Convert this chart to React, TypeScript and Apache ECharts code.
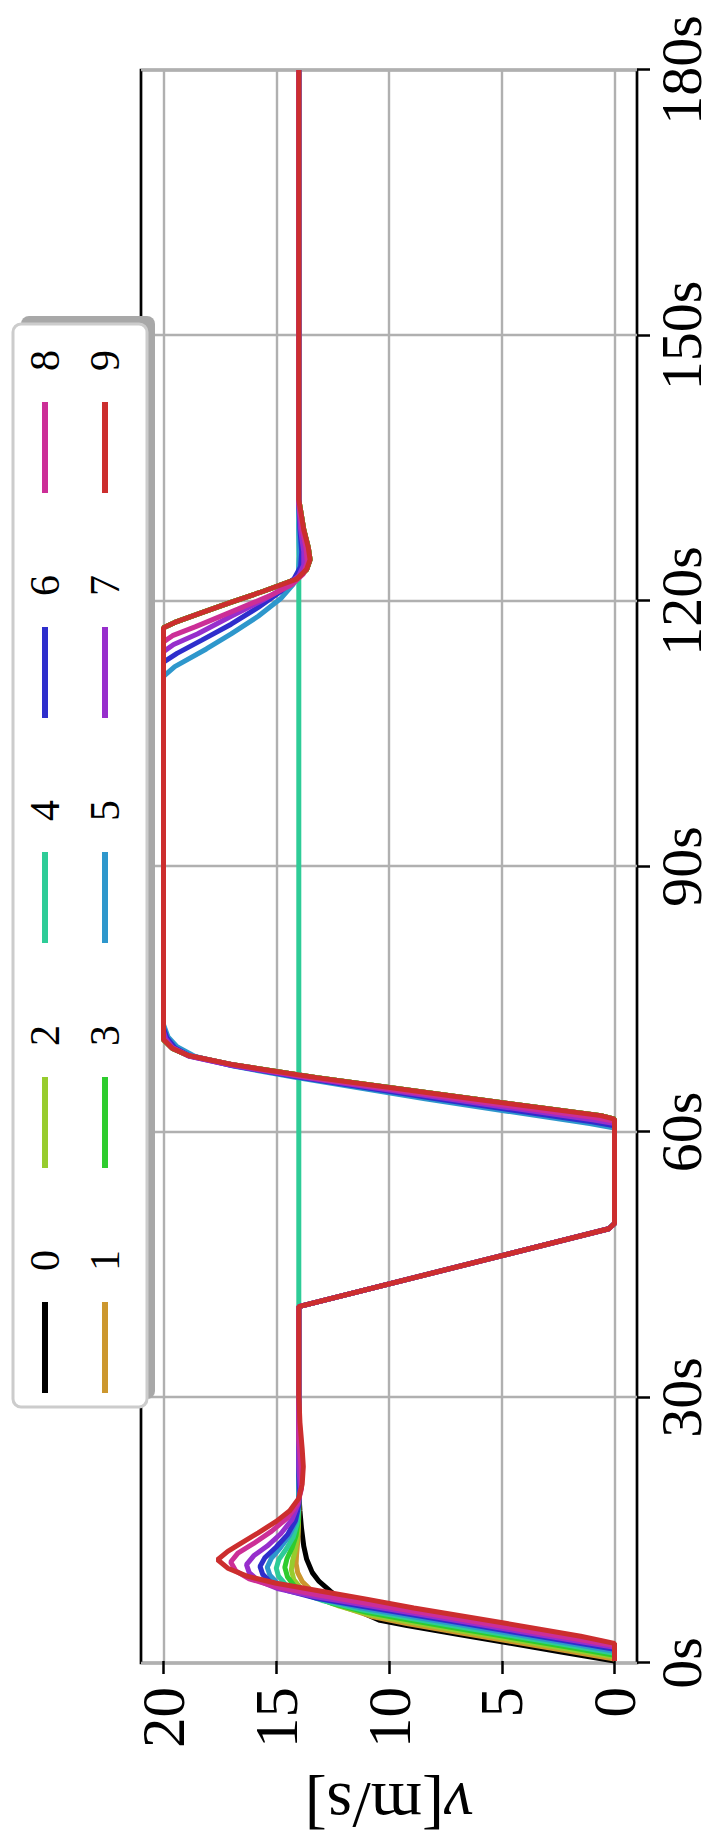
import React, { useEffect, useRef } from "react";
import * as echarts from "echarts";

// ---- tick labels ----
const TIME_TICKS = [0, 30, 60, 90, 120, 150, 180];
const SPEED_TICKS = [0, 5, 10, 15, 20];
const SPEED_FRAME = [-1, 21];

// ---- series names & colours ----
const SERIES_NAMES = ["0", "1", "2", "3", "4", "5", "6", "7", "8", "9"];
const COLORS = [
  "#000000", "#cc972e", "#97cc2e", "#2ecc2e", "#2ecc97",
  "#2e97cc", "#2e2ecc", "#972ecc", "#cc2e97", "#cc2e2e",
];
const LEGEND_ROW_1 = ["0", "2", "4", "6", "8"];
const LEGEND_ROW_2 = ["1", "3", "5", "7", "9"];

// ---- start phase (t [s], v [m/s]) ----
const START_0 = [[0,0],[1,2.3],[2,4.6],[3,6.9],[4,9.2],[4.6,10.4],[5.5,11.2],[6.5,11.9],[7.9,12.6],[9,13.1],[10,13.4],[11.5,13.65],[13,13.78],[15,13.88],[17,13.95],[19,14]];
const START_1 = [[0,0],[0.22,0],[1.2,2.25],[2.2,4.55],[3.2,6.85],[4.2,9.15],[5,10.7],[6,11.9],[7,12.8],[8,13.45],[9,13.85],[10,14.05],[11,14.12],[12,14.1],[14,14.03],[17,14],[19,14]];
const START_2 = [[0,0],[0.44,0],[1.4,2.2],[2.4,4.5],[3.4,6.8],[4.4,9.1],[5.2,10.8],[6.2,12.2],[7.2,13.2],[8.2,13.9],[9.2,14.22],[10.3,14.33],[11.3,14.28],[12.5,14.16],[14,14.06],[16,14.01],[19,14]];
const START_3 = [[0,0],[0.66,0],[1.6,2.15],[2.6,4.45],[3.6,6.75],[4.6,9.05],[5.5,11.0],[6.5,12.5],[7.5,13.55],[8.5,14.2],[9.5,14.5],[10.6,14.62],[11.6,14.52],[12.8,14.3],[14.2,14.12],[16,14.02],[19,14]];
const START_4 = [[0,0],[0.88,0],[1.8,2.1],[2.8,4.4],[3.8,6.7],[4.8,9.0],[5.8,11.2],[6.8,12.9],[7.8,14.0],[8.7,14.6],[9.6,14.9],[10.5,15.0],[11.5,14.88],[12.7,14.55],[14,14.25],[15.5,14.08],[17,14.01],[19,14]];
const START_5 = [[0,0],[1.1,0],[2,2.05],[3,4.35],[4,6.65],[5,8.95],[6,11.2],[7,13.0],[7.9,14.25],[8.8,14.95],[9.7,15.28],[10.6,15.4],[11.6,15.22],[12.8,14.82],[14.2,14.42],[15.8,14.13],[17.5,14.02],[19,14]];
const START_6 = [[0,0],[1.32,0],[2.2,2.0],[3.2,4.3],[4.2,6.6],[5.2,8.9],[6.2,11.2],[7.1,13.2],[8,14.55],[8.9,15.25],[9.8,15.6],[10.7,15.72],[11.7,15.5],[12.9,15.0],[14.3,14.5],[15.9,14.15],[17.6,14.0],[19,13.97],[21,14]];
const START_7 = [[0,0],[1.54,0],[2.4,2.0],[3.4,4.3],[4.4,6.6],[5.4,8.9],[6.4,11.2],[7.3,13.3],[8.2,14.95],[9.1,15.8],[10,16.2],[10.9,16.32],[11.9,16.0],[13,15.4],[14.4,14.8],[16,14.3],[17.8,14.02],[19.5,13.93],[22,14]];
const START_8 = [[0,0],[1.76,0],[2.6,1.95],[3.6,4.25],[4.6,6.55],[5.6,8.85],[6.6,11.15],[7.5,13.2],[8.4,15.0],[9.3,16.2],[10.2,16.8],[11.2,17.02],[12.2,16.7],[13.3,16.0],[14.7,15.2],[16.2,14.5],[17.8,14.05],[19.5,13.88],[22,13.9],[25,14]];
const START_9 = [[0,0],[2.0,0],[2.8,1.5],[4.3,4.9],[6.0,8.9],[7.0,11.0],[7.9,13.0],[8.8,15.0],[9.6,16.3],[10.5,17.15],[11.45,17.6],[12.4,17.15],[13.1,16.7],[14.5,15.8],[15.8,15.0],[17,14.4],[18.4,14.0],[20,13.85],[22,13.8],[24,13.85],[27,13.95],[30,14]];

// ---- braking to standstill (shared) ----
const DROP = [[40.1,14],[48.9,0.25],[49.5,0]];

// ---- second acceleration ----
const RAMP_5 = [[60.3,0],[60.8,1.1],[63.6,8.4],[66,14.1],[67.3,16.9],[68.4,18.6],[69.5,19.4],[70.6,19.8],[72,20]];
const RAMP_6 = [[60.55,0],[61.0,1.0],[63.6,7.9],[66,13.9],[67.4,17.0],[68.4,18.8],[69.4,19.5],[70.5,19.85],[71.6,20]];
const RAMP_7 = [[60.8,0],[61.2,0.9],[63.6,7.4],[66,13.7],[67.4,17.0],[68.4,18.85],[69.4,19.6],[70.4,19.9],[71.2,20]];
const RAMP_8 = [[61.05,0],[61.45,0.8],[63.6,6.9],[66,13.5],[67.5,17.0],[68.5,18.9],[69.4,19.65],[70.4,20]];
const RAMP_9 = [[61.3,0],[61.7,0.6],[63.6,6.3],[66,13.2],[67.5,17.0],[68.5,18.9],[69.3,19.6],[70.3,20]];

// ---- deceleration 20 -> 14 ----
const DECEL_5 = [[111.4,20],[112.5,19.5],[114.5,18.1],[116.2,17.0],[118.2,15.8],[120.2,14.8],[121.8,14.25],[123,14.02],[125,13.97],[128,14]];
const DECEL_6 = [[113.0,20],[114,19.4],[115.5,18.3],[117.3,17.0],[119.2,15.8],[121,14.8],[122.5,14.2],[123.8,13.92],[125.5,13.87],[128,13.95],[131,14]];
const DECEL_7 = [[114.2,20],[115,19.55],[116.2,18.5],[118.2,17.0],[120,15.6],[121.5,14.6],[122.8,14.0],[124,13.78],[125.5,13.78],[128,13.92],[131,14]];
const DECEL_8 = [[115.3,20],[116,19.6],[117,18.6],[119,16.7],[120.5,15.3],[121.8,14.3],[123,13.8],[124.3,13.62],[126,13.68],[128,13.85],[131,14]];
const DECEL_9 = [[116.9,20],[117.5,19.5],[118.6,18.3],[119.74,17.05],[121,15.6],[122.4,14.1],[123.5,13.65],[124.6,13.5],[126,13.58],[128,13.78],[131.4,14]];

const END = [[180,14]];

const SERIES_DATA = [
  [...START_0, ...DROP, ...RAMP_9, ...DECEL_9, ...END],
  [...START_1, ...DROP, ...RAMP_9, ...DECEL_9, ...END],
  [...START_2, ...DROP, ...RAMP_9, ...DECEL_9, ...END],
  [...START_3, ...DROP, ...RAMP_9, ...DECEL_9, ...END],
  [...START_4, ...END],
  [...START_5, ...DROP, ...RAMP_5, ...DECEL_5, ...END],
  [...START_6, ...DROP, ...RAMP_6, ...DECEL_6, ...END],
  [...START_7, ...DROP, ...RAMP_7, ...DECEL_7, ...END],
  [...START_8, ...DROP, ...RAMP_8, ...DECEL_8, ...END],
  [...START_9, ...DROP, ...RAMP_9, ...DECEL_9, ...END],
];

const FONT = "'Liberation Serif', 'DejaVu Serif', serif";

function buildOption() {
  const tickStyle = { show: true, inside: false, length: 13, lineStyle: { color: "#000", width: 2.5 } };
  const gridLine = { show: true, lineStyle: { color: "#b0b0b0", width: 2.4 } };
  const legendCommon = {
    orient: "horizontal",
    icon: "rect",
    itemWidth: 91,
    itemHeight: 6,
    itemGap: 82,
    padding: 0,
    selectedMode: false,
    z: 6,
    textStyle: { fontSize: 42, fontFamily: FONT, color: "#000", lineHeight: 44, padding: [0, 0, 0, 26] },
  };
  return {
    animation: false,
    backgroundColor: "#ffffff",
    textStyle: { fontFamily: FONT },
    grid: [
      { left: 184, right: 70, top: 141, bottom: 79, show: true, borderColor: "#000", borderWidth: 2.7, backgroundColor: "transparent" },
      { left: 184, right: 70, top: 163.5, bottom: 101.5, show: false },
    ],
    xAxis: [
      {
        type: "value", gridIndex: 0,
        min: TIME_TICKS[0], max: TIME_TICKS[TIME_TICKS.length - 1], interval: TIME_TICKS[1] - TIME_TICKS[0],
        axisLine: { show: false, onZero: false },
        axisTick: tickStyle,
        axisLabel: { formatter: (v: number) => `${v}s`, fontSize: 58, lineHeight: 50, fontFamily: FONT, color: "#000", margin: 19 },
        splitLine: gridLine,
      },
      {
        type: "value", gridIndex: 1,
        min: TIME_TICKS[0], max: TIME_TICKS[TIME_TICKS.length - 1],
        show: false, axisLine: { onZero: false },
      },
    ],
    yAxis: [
      { type: "value", gridIndex: 0, min: SPEED_FRAME[0], max: SPEED_FRAME[1], show: false, axisLine: { onZero: false } },
      {
        type: "value", gridIndex: 1,
        min: SPEED_TICKS[0], max: SPEED_TICKS[SPEED_TICKS.length - 1], interval: SPEED_TICKS[1] - SPEED_TICKS[0],
        axisLine: { show: false, onZero: false },
        axisTick: tickStyle,
        axisLabel: { fontSize: 61, lineHeight: 56, fontFamily: FONT, color: "#000", margin: 26 },
        splitLine: gridLine,
        name: "{i|v}[m/s]",
        nameLocation: "middle",
        nameRotate: 90,
        nameGap: 115,
        nameTextStyle: {
          fontSize: 66, lineHeight: 60, fontFamily: FONT, color: "#000",
          rich: { i: { fontStyle: "italic", fontSize: 66, lineHeight: 60, fontFamily: FONT, color: "#000" } },
        },
      },
    ],
    legend: [
      { ...legendCommon, data: LEGEND_ROW_1, left: 454, top: 23 },
      { ...legendCommon, data: LEGEND_ROW_2, left: 454, top: 83 },
    ],
    graphic: [
      { type: "rect", silent: true, z: 3, z2: 0, shape: { x: 448, y: 21, width: 1083, height: 134, r: 8 }, style: { fill: "#a8a8a8" } },
      { type: "rect", silent: true, z: 3, z2: 1, shape: { x: 440, y: 13, width: 1083, height: 134, r: 8 }, style: { fill: "#ffffff", stroke: "#cccccc", lineWidth: 3 } },
    ],
    series: SERIES_NAMES.map((name, i) => ({
      name,
      type: "line",
      xAxisIndex: 1,
      yAxisIndex: 1,
      showSymbol: false,
      symbol: "none",
      color: COLORS[i],
      itemStyle: { color: COLORS[i] },
      lineStyle: { color: COLORS[i], width: 5 },
      data: SERIES_DATA[i],
      z: 2,
    })),
  };
}

export default function App() {
  const ref = useRef<HTMLDivElement>(null);
  useEffect(() => {
    if (!ref.current) return;
    const chart = echarts.init(ref.current, null, { renderer: "svg" });
    chart.setOption(buildOption() as any);
    return () => chart.dispose();
  }, []);
  return (
    <div style={{ position: "absolute", left: 0, top: 0, width: 716, height: 1847, overflow: "hidden", background: "#fff" }}>
      <div
        ref={ref}
        style={{
          position: "absolute", left: 0, top: 0, width: 1847, height: 716,
          transformOrigin: "0 0", transform: "translateY(1847px) rotate(-90deg)",
        }}
      />
    </div>
  );
}
